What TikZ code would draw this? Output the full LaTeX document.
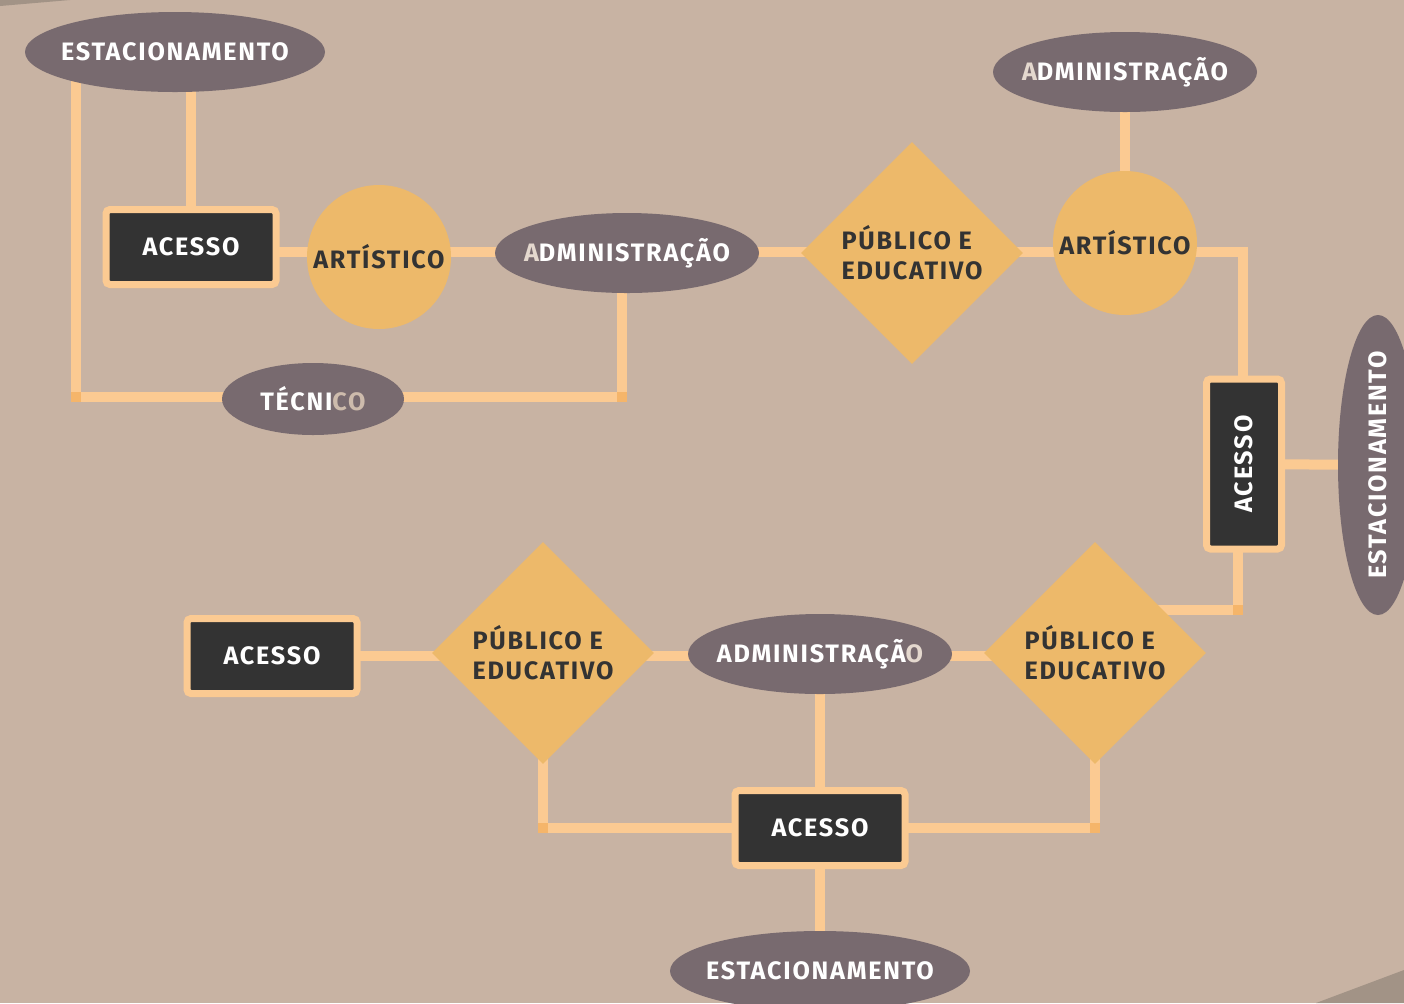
\documentclass[tikz,border=0pt]{standalone}
\usepackage{fontspec}
\setmainfont[LetterSpace=7]{Fira Sans}
\usepackage{xcolor}
\usepackage{tikz}
\usetikzlibrary{shapes,arrows,positioning,backgrounds}

\definecolor{bgtan}{HTML}{C8B3A3}
\definecolor{bgdark}{HTML}{A29386}
\definecolor{mauve}{HTML}{786A6F}
\definecolor{peach}{HTML}{FBCA92}
\definecolor{peachdk}{HTML}{F5B56A}
\definecolor{gold}{HTML}{EDB96A}
\definecolor{charcoal}{HTML}{333333}
\definecolor{fadetxt}{HTML}{CDBBAC}
\definecolor{paletxt}{HTML}{E4D8CE}

\newcommand{\ctr}[1]{\makebox[0pt]{#1}}

\begin{document}
\begin{tikzpicture}[x=0.5pt, y=-0.5pt, font=\bfseries\fontsize{12.6}{15}\selectfont]
\tikzstyle{oval} = [ellipse, fill=mauve, text=white, inner sep=0pt, minimum width=132pt, minimum height=40pt]
\tikzstyle{disc} = [circle, fill=gold, text=charcoal, inner sep=0pt, minimum size=72pt]
\tikzstyle{rhomb} = [diamond, fill=gold, text=charcoal, inner sep=0pt, minimum width=111pt, minimum height=111pt, align=left]
\tikzstyle{gate} = [rectangle, fill=charcoal, text=white, draw=peach, line width=3.5pt, rounded corners=2pt, minimum width=85pt, minimum height=37.5pt]
\tikzstyle{line} = [draw=peach, line width=5pt]
\tikzstyle{joint} = [rectangle, fill=peachdk, inner sep=0pt, minimum size=5pt]

\useasboundingbox (0,0) rectangle (1404,1003);

\node [oval, minimum width=150pt] (est1) at (175,52) {\ctr{ESTACIONAMENTO}};
\node [gate] (acc1) at (191,247) {\ctr{ACESSO}};
\node [disc] (art1) at (379,257) {\ctr{ARTÍSTICO}};
\node [oval] (adm1) at (627,253) {\ctr{\textcolor{paletxt}{A}DMINISTRAÇÃO}};
\node [oval, minimum width=91pt, minimum height=36pt] (tec) at (313,399) {\ctr{TÉCNI\textcolor{fadetxt}{CO}}};
\node [rhomb] (pub1) at (912,253) {PÚBLICO E\\EDUCATIVO};
\node [disc] (art2) at (1125,243) {\ctr{ARTÍSTICO}};
\node [oval] (adm2) at (1125,72) {\ctr{\textcolor{paletxt}{A}DMINISTRAÇÃO}};
\node [gate, rotate=90] (acc2) at (1244,464) {\ctr{ACESSO}};
\node [oval, rotate=90, minimum width=150pt] (est2) at (1378,465) {\ctr{ESTACIONAMENTO}};
\node [rhomb] (pub2) at (1095,653) {PÚBLICO E\\EDUCATIVO};
\node [oval] (adm3) at (820,654) {\ctr{ADMINISTRAÇÃ\textcolor{paletxt}{O}}};
\node [rhomb] (pub3) at (543,653) {PÚBLICO E\\EDUCATIVO};
\node [gate] (acc3) at (272,656) {\ctr{ACESSO}};
\node [gate] (acc4) at (820,828) {\ctr{ACESSO}};
\node [oval, minimum width=150pt] (est3) at (820,971) {\ctr{ESTACIONAMENTO}};

\coordinate (k1) at (76,397);
\coordinate (k2) at (622,397);
\coordinate (k3) at (1243,252);
\coordinate (k4) at (1238,610);

\begin{scope}[on background layer]
\fill [bgtan] (0,0) rectangle (1404,1003);
\fill [bgdark] (0,0) -- (70,0) -- (0,6) -- cycle;
\fill [bgdark] (1316,1003) -- (1404,970) -- (1404,1003) -- cycle;

\path [line] (est1.center -| k1) -- (k1) -- (k2) -- (k2 |- adm1.center);
\path [line] (est1.center -| acc1.center) -- (acc1.center);
\path [line] (acc1.center |- k3) -- (k3) -- (k3 |- acc2.center);
\path [line] (adm2.center) -- (art2.center);
\path [line] (acc2.center) -- (est2.center);
\path [line] (acc2.center -| k4) -- (k4) -- (k4 -| pub2.center);
\path [line] (acc3.center) -- (acc3.center -| pub2.center);
\path [line] (pub3.center) |- (acc4.center) -| (pub2.center);
\path [line] (adm3.center) -- (est3.center);

\foreach \p/\n in {(k1)/j1, (k2)/j2, (k4)/j4, (pub3.center |- acc4.center)/j5, (pub2.center |- acc4.center)/j6}
  \node [joint] (\n) at \p {};
\end{scope}
\end{tikzpicture}
\end{document}
